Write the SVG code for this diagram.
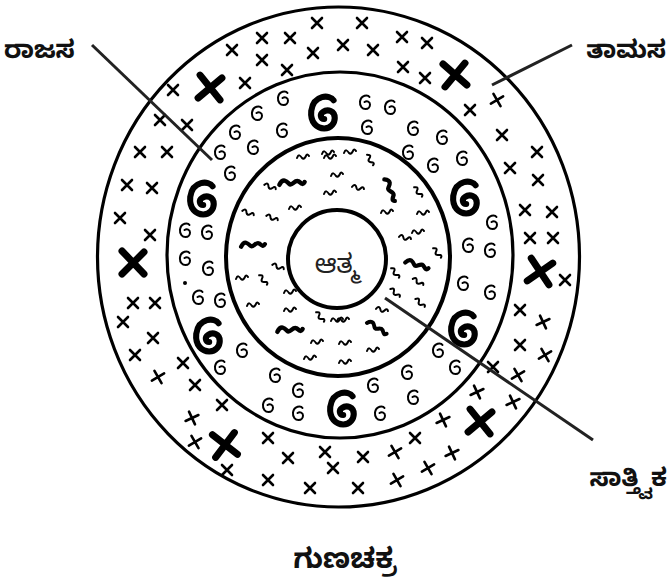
<svg xmlns="http://www.w3.org/2000/svg" xmlns:xlink="http://www.w3.org/1999/xlink" width="667" height="584" viewBox="0 0 667 584">
<style>
.ring{fill:none;stroke:#000;stroke-width:3.2}
.ring2{fill:none;stroke:#000;stroke-width:4}
.lead{stroke:#222;stroke-width:3;fill:none}
.sx{fill:none;stroke:#000;stroke-width:2.6;stroke-linecap:round}
.bx{fill:none;stroke:#000;stroke-width:7;stroke-linecap:round}
.sw{fill:none;stroke:#000;stroke-width:2;stroke-linecap:round}
.bsw{fill:none;stroke:#000;stroke-width:2.6;stroke-linecap:round}
.sq{fill:none;stroke:#000;stroke-width:2;stroke-linecap:round;stroke-linejoin:round}
.bsq{fill:none;stroke:#000;stroke-width:5;stroke-linecap:round;stroke-linejoin:round}
.lbl{font-family:'Noto Sans Kannada','Noto Serif Kannada','Noto Sans',sans-serif;font-weight:bold;font-size:25px;fill:#111}
.atma{font-family:'Noto Sans Kannada','Noto Serif Kannada','Noto Sans',sans-serif;font-size:26px;fill:#222}
</style>
<defs>
<path id="sx" class="sx" d="M-5,-5 L5,5 M5,-5 L-5,5"/>
<path id="bx" class="bx" d="M-11,-12 L11,11 M11,-11 L-11,11"/>
<path id="sw" class="sw" d="M4.5,-5 C3,-7.5 -4,-7.5 -5,-0.5 C-5.5,4.5 -2.5,7 0.5,7 C3.5,7 5,4.5 5,2.5 C5,-0.5 2,-1.5 -0.5,0"/>
<g id="bsw"><path class="bsw" transform="scale(2.35)" d="M4.5,-5 C3,-7.5 -4,-7.5 -5,-0.5 C-5.5,4.5 -2.5,7 0.5,7 C3.5,7 5,4.5 5,2.5 C5,-0.5 2,-1.5 0,0 C-1.5,1 -1,3 0.5,3"/></g>
<path id="sq" class="sq" d="M-6,1 C-4.5,-3 -3,-2 -1,1 C1,3 2.5,0 3.5,-2 C4.5,-3 5.5,-2 6,-1"/>
<path id="bsq" class="bsq" d="M-14,2 C-10,-6 -6,-2 -3,1 C0,4 3,-4 7,-2 C10,0 12,3 14,-1"/>
</defs>
<rect width="667" height="584" fill="#fff"/>

<g id="tamasa-ring">
<ellipse class="ring" cx="338.5" cy="257" rx="241" ry="250"/>
<use href="#bx" transform="translate(210,88) rotate(5)"/>
<use href="#bx" transform="translate(455,75) rotate(-5)"/>
<use href="#bx" transform="translate(133,263)"/>
<use href="#bx" transform="translate(540,272) rotate(10)"/>
<use href="#bx" transform="translate(225,445) rotate(-8)"/>
<use href="#bx" transform="translate(480,422) rotate(5)"/>
<use href="#sx" transform="translate(317,23)"/>
<use href="#sx" transform="translate(262,38)"/>
<use href="#sx" transform="translate(290,38)"/>
<use href="#sx" transform="translate(232,50)"/>
<use href="#sx" transform="translate(313,53)"/>
<use href="#sx" transform="translate(262,60)"/>
<use href="#sx" transform="translate(287,70)"/>
<use href="#sx" transform="translate(245,83)"/>
<use href="#sx" transform="translate(173,90)"/>
<use href="#sx" transform="translate(160,120)"/>
<use href="#sx" transform="translate(187,125)"/>
<use href="#sx" transform="translate(140,152)"/>
<use href="#sx" transform="translate(167,152)"/>
<use href="#sx" transform="translate(127,185)"/>
<use href="#sx" transform="translate(152,188)"/>
<use href="#sx" transform="translate(120,218)"/>
<use href="#sx" transform="translate(150,235)"/>
<use href="#sx" transform="translate(362,23)"/>
<use href="#sx" transform="translate(343,45)"/>
<use href="#sx" transform="translate(373,50)"/>
<use href="#sx" transform="translate(402,37)"/>
<use href="#sx" transform="translate(427,43)"/>
<use href="#sx" transform="translate(403,67)"/>
<use href="#sx" transform="translate(425,78)"/>
<use href="#sx" transform="translate(497,100) rotate(15)"/>
<use href="#sx" transform="translate(470,110)"/>
<use href="#sx" transform="translate(502,135)"/>
<use href="#sx" transform="translate(537,152)"/>
<use href="#sx" transform="translate(510,168)"/>
<use href="#sx" transform="translate(538,180)"/>
<use href="#sx" transform="translate(525,210)"/>
<use href="#sx" transform="translate(552,212)"/>
<use href="#sx" transform="translate(530,238)"/>
<use href="#sx" transform="translate(553,238)"/>
<use href="#sx" transform="translate(133,303)"/>
<use href="#sx" transform="translate(155,303)"/>
<use href="#sx" transform="translate(123,322)"/>
<use href="#sx" transform="translate(153,338)"/>
<use href="#sx" transform="translate(135,355)"/>
<use href="#sx" transform="translate(183,363)"/>
<use href="#sx" transform="translate(158,377) rotate(15)"/>
<use href="#sx" transform="translate(195,385)"/>
<use href="#sx" transform="translate(222,405)"/>
<use href="#sx" transform="translate(192,418) rotate(20)"/>
<use href="#sx" transform="translate(195,442) rotate(15)"/>
<use href="#sx" transform="translate(227,470)"/>
<use href="#sx" transform="translate(268,438)"/>
<use href="#sx" transform="translate(288,458)"/>
<use href="#sx" transform="translate(268,480)"/>
<use href="#sx" transform="translate(310,488)"/>
<use href="#sx" transform="translate(325,452)"/>
<use href="#sx" transform="translate(565,280)"/>
<use href="#sx" transform="translate(520,310)"/>
<use href="#sx" transform="translate(543,322) rotate(20)"/>
<use href="#sx" transform="translate(520,345)"/>
<use href="#sx" transform="translate(545,355) rotate(15)"/>
<use href="#sx" transform="translate(493,367)"/>
<use href="#sx" transform="translate(518,375) rotate(15)"/>
<use href="#sx" transform="translate(477,392) rotate(20)"/>
<use href="#sx" transform="translate(513,402) rotate(20)"/>
<use href="#sx" transform="translate(443,420) rotate(20)"/>
<use href="#sx" transform="translate(415,438)"/>
<use href="#sx" transform="translate(452,453) rotate(20)"/>
<use href="#sx" transform="translate(395,452) rotate(15)"/>
<use href="#sx" transform="translate(363,457)"/>
<use href="#sx" transform="translate(428,468) rotate(15)"/>
<use href="#sx" transform="translate(333,468)"/>
<use href="#sx" transform="translate(397,480) rotate(15)"/>
<use href="#sx" transform="translate(358,488)"/>
</g>

<g id="rajasa-ring">
<ellipse class="ring" cx="340" cy="255" rx="173" ry="183"/>
<use href="#bsw" transform="translate(323,112)"/>
<use href="#bsw" transform="translate(202,198)"/>
<use href="#bsw" transform="translate(465,197)"/>
<use href="#bsw" transform="translate(208,335)"/>
<use href="#bsw" transform="translate(463,328)"/>
<use href="#bsw" transform="translate(342,408)"/>
<use href="#sw" transform="translate(283,98)"/>
<use href="#sw" transform="translate(257,113)"/>
<use href="#sw" transform="translate(235,132)"/>
<use href="#sw" transform="translate(282,130)"/>
<use href="#sw" transform="translate(253,147)"/>
<use href="#sw" transform="translate(220,152)"/>
<use href="#sw" transform="translate(230,173)"/>
<use href="#sw" transform="translate(185,230)"/>
<use href="#sw" transform="translate(207,232)"/>
<use href="#sw" transform="translate(365,102)"/>
<use href="#sw" transform="translate(390,107)"/>
<use href="#sw" transform="translate(367,127)"/>
<use href="#sw" transform="translate(413,128)"/>
<use href="#sw" transform="translate(442,137)"/>
<use href="#sw" transform="translate(408,152)"/>
<use href="#sw" transform="translate(433,165)"/>
<use href="#sw" transform="translate(462,158)"/>
<use href="#sw" transform="translate(492,222)"/>
<use href="#sw" transform="translate(468,245)"/>
<use href="#sw" transform="translate(490,250)"/>
<use href="#sw" transform="translate(185,258)"/>
<use href="#sw" transform="translate(208,268)"/>
<circle cx="185" cy="283" r="2" fill="#000"/>
<use href="#sw" transform="translate(198,297)"/>
<use href="#sw" transform="translate(220,300)"/>
<use href="#sw" transform="translate(242,350)"/>
<use href="#sw" transform="translate(220,367)"/>
<use href="#sw" transform="translate(275,375)"/>
<use href="#sw" transform="translate(298,390)"/>
<use href="#sw" transform="translate(268,405)"/>
<use href="#sw" transform="translate(298,413)"/>
<use href="#sw" transform="translate(463,283)"/>
<use href="#sw" transform="translate(490,292)"/>
<use href="#sw" transform="translate(438,350)"/>
<use href="#sw" transform="translate(455,367)"/>
<use href="#sw" transform="translate(407,372)"/>
<use href="#sw" transform="translate(373,385)"/>
<use href="#sw" transform="translate(413,397)"/>
<use href="#sw" transform="translate(380,413)"/>
</g>

<g id="sattvika-ring">
<ellipse class="ring2" cx="338" cy="257" rx="112" ry="119"/>
<use href="#bsq" transform="translate(390,190) rotate(70) scale(0.85)"/>
<use href="#bsq" transform="translate(292,183) scale(0.9)"/>
<use href="#bsq" transform="translate(253,245) scale(0.85)"/>
<use href="#bsq" transform="translate(290,330) scale(0.9)"/>
<use href="#bsq" transform="translate(417,265) rotate(20) scale(0.85)"/>
<use href="#bsq" transform="translate(377,328) rotate(35) scale(0.8)"/>
<use href="#sq" transform="translate(350,152)"/>
<use href="#sq" transform="translate(370,160) rotate(70)"/>
<use href="#sq" transform="translate(330,157)"/>
<use href="#sq" transform="translate(337,175)"/>
<use href="#sq" transform="translate(358,188) rotate(20)"/>
<use href="#sq" transform="translate(418,192) rotate(60)"/>
<use href="#sq" transform="translate(387,212)"/>
<use href="#sq" transform="translate(423,213)"/>
<use href="#sq" transform="translate(418,232)"/>
<use href="#sq" transform="translate(405,238) rotate(20)"/>
<use href="#sq" transform="translate(437,253) rotate(60)"/>
<use href="#sq" transform="translate(330,193)"/>
<use href="#sq" transform="translate(303,157)"/>
<use href="#sq" transform="translate(328,153)"/>
<use href="#sq" transform="translate(270,187) rotate(30)"/>
<use href="#sq" transform="translate(248,213) rotate(30)"/>
<use href="#sq" transform="translate(272,218) rotate(30)"/>
<use href="#sq" transform="translate(295,208)"/>
<use href="#sq" transform="translate(242,278)"/>
<use href="#sq" transform="translate(263,280) rotate(60)"/>
<use href="#sq" transform="translate(278,267) rotate(30)"/>
<use href="#sq" transform="translate(290,292)"/>
<use href="#sq" transform="translate(253,305)"/>
<use href="#sq" transform="translate(290,310)"/>
<use href="#sq" transform="translate(320,317) rotate(60)"/>
<use href="#sq" transform="translate(317,342)"/>
<use href="#sq" transform="translate(310,358)"/>
<use href="#sq" transform="translate(337,320)"/>
<use href="#sq" transform="translate(395,273) rotate(60)"/>
<use href="#sq" transform="translate(418,282) rotate(40)"/>
<use href="#sq" transform="translate(395,293) rotate(50)"/>
<use href="#sq" transform="translate(420,303) rotate(50)"/>
<use href="#sq" transform="translate(382,310) rotate(20)"/>
<use href="#sq" transform="translate(343,320)"/>
<use href="#sq" transform="translate(345,343)"/>
<use href="#sq" transform="translate(373,350)"/>
<use href="#sq" transform="translate(345,362)"/>
</g>

<g id="atma">
<circle cx="337" cy="259" r="49" fill="#fff" stroke="#000" stroke-width="4"/>
<text class="atma" x="337" y="273" text-anchor="middle">ಆತ್ಮ</text>
</g>

<g id="connectors">
<line class="lead" x1="92" y1="45" x2="212" y2="160"/>
<line class="lead" x1="572" y1="45" x2="492" y2="85"/>
<line class="lead" x1="385" y1="298" x2="593" y2="440"/>
</g>

<g id="label-rajasa"><text class="lbl" x="4" y="58">ರಾಜಸ</text></g>
<g id="label-tamasa"><text class="lbl" x="666" y="58" text-anchor="end">ತಾಮಸ</text></g>
<g id="label-sattvika"><text class="lbl" x="667" y="486" text-anchor="end">ಸಾತ್ತ್ವಿಕ</text></g>
<g id="title"><text class="lbl" x="345" y="568" text-anchor="middle" style="font-size:28px">ಗುಣಚಕ್ರ</text></g>
</svg>
